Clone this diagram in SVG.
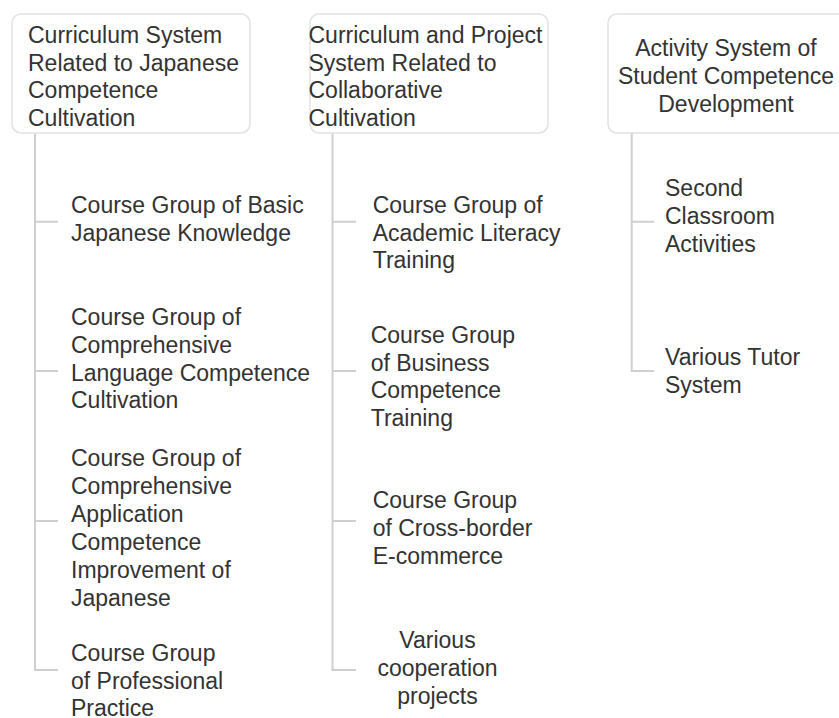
<svg xmlns="http://www.w3.org/2000/svg" width="839" height="718" viewBox="0 0 839 718">
<style>
text{font-family:"Liberation Sans",Arial,sans-serif;font-size:23px;fill:#333}
.box{fill:#fff;stroke:#e2e2e2;stroke-width:1.5}
.c{stroke:#cfcfcf;stroke-width:2;fill:none}
.m{text-anchor:middle}
</style>
<rect width="839" height="718" fill="#fff"/>
<g id="connectors">
<path class="c" d="M35 133V670H58M35 221.7H58M35 371H58M35 521H58"/>
<path class="c" d="M332.5 133V670H356M332.5 221.7H356M332.5 371H356M332.5 521H356"/>
<path class="c" d="M631.7 133V371H654M631.7 221.7H654"/>
</g>
<g id="root1">
<rect class="box" x="12" y="14" width="238" height="119" rx="9"/>
<text x="28" y="43">Curriculum System</text>
<text x="28" y="70.5">Related to Japanese</text>
<text x="28" y="98">Competence</text>
<text x="28" y="125.5">Cultivation</text>
</g>
<g id="root2">
<rect class="box" x="310" y="14" width="238" height="119" rx="9"/>
<text x="308.5" y="43">Curriculum and Project</text>
<text x="308.5" y="70.5">System Related to</text>
<text x="308.5" y="98">Collaborative</text>
<text x="308.5" y="125.5">Cultivation</text>
</g>
<g id="root3">
<rect class="box" x="608" y="14" width="250" height="119" rx="9"/>
<text class="m" x="726" y="56">Activity System of</text>
<text class="m" x="726" y="84">Student Competence</text>
<text class="m" x="726" y="111.5">Development</text>
</g>
<g id="n1a">
<text x="71" y="213.3">Course Group of Basic</text>
<text x="71" y="240.8">Japanese Knowledge</text>
</g>
<g id="n1b">
<text x="71" y="325">Course Group of</text>
<text x="71" y="352.7">Comprehensive</text>
<text x="71" y="380.5">Language Competence</text>
<text x="71" y="408.2">Cultivation</text>
</g>
<g id="n1c">
<text x="71" y="466">Course Group of</text>
<text x="71" y="494">Comprehensive</text>
<text x="71" y="521.7">Application</text>
<text x="71" y="549.7">Competence</text>
<text x="71" y="577.7">Improvement of</text>
<text x="71" y="605.7">Japanese</text>
</g>
<g id="n1d">
<text x="71" y="661">Course Group</text>
<text x="71" y="688.5">of Professional</text>
<text x="71" y="716">Practice</text>
</g>
<g id="n2a">
<text x="372.7" y="213.3">Course Group of</text>
<text x="372.7" y="240.8">Academic Literacy</text>
<text x="372.7" y="268.3">Training</text>
</g>
<g id="n2b">
<text x="370.7" y="343.3">Course Group</text>
<text x="370.7" y="370.8">of Business</text>
<text x="370.7" y="398.3">Competence</text>
<text x="370.7" y="425.8">Training</text>
</g>
<g id="n2c">
<text x="372.7" y="508.3">Course Group</text>
<text x="372.7" y="536">of Cross-border</text>
<text x="372.7" y="563.7">E-commerce</text>
</g>
<g id="n2d">
<text class="m" x="437.5" y="648.3">Various</text>
<text class="m" x="437.5" y="676">cooperation</text>
<text class="m" x="437.5" y="703.5">projects</text>
</g>
<g id="n3a">
<text x="665" y="195.5">Second</text>
<text x="665" y="223.5">Classroom</text>
<text x="665" y="251.5">Activities</text>
</g>
<g id="n3b">
<text x="665" y="365">Various Tutor</text>
<text x="665" y="392.5">System</text>
</g>
</svg>
